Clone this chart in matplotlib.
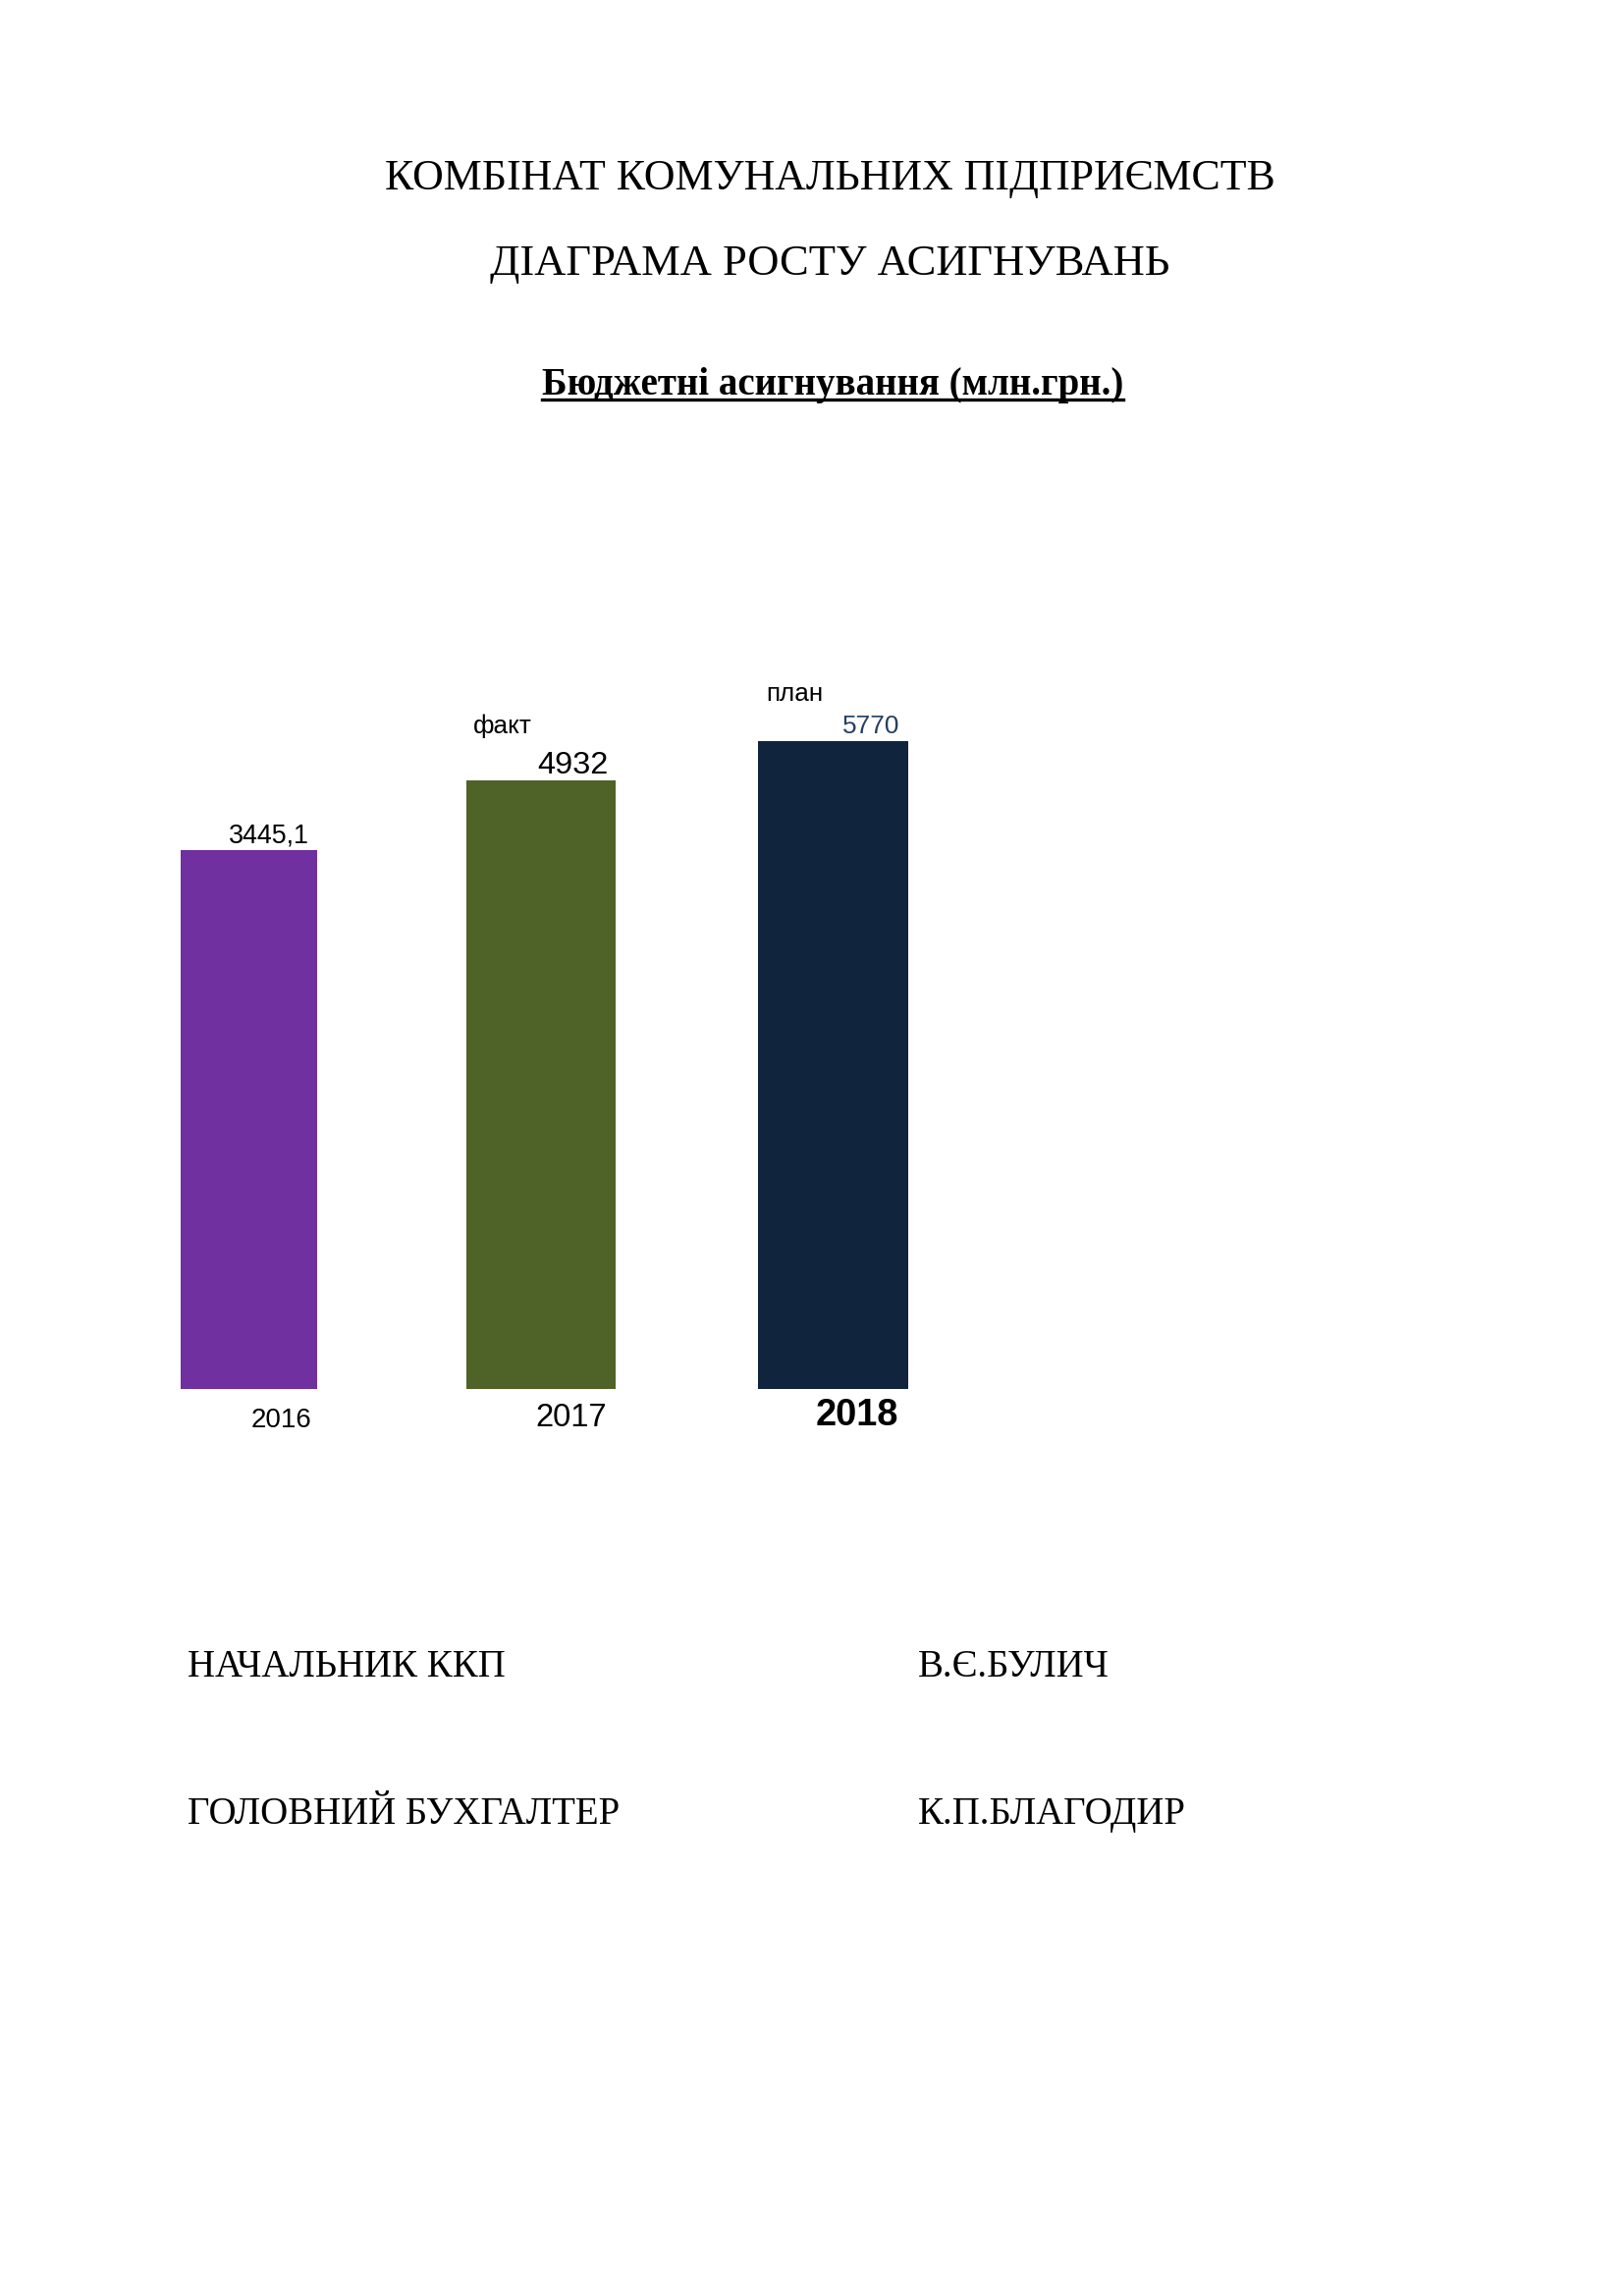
import matplotlib
matplotlib.use('Agg')
import matplotlib.pyplot as plt
from matplotlib.lines import Line2D

# budget allocations, mln UAH
years = ['2016', '2017', '2018']
values = [3445.1, 4932, 5770]
value_labels = ['3445,1', '4932', '5770']
notes = ['', 'факт', 'план']

W, H = 1654, 2339
DPI = 200
PT = 72 / DPI  # px -> points

fig = plt.figure(figsize=(W / DPI, H / DPI), dpi=DPI)
fig.patch.set_facecolor('white')

def fx(px):
    return px / W

def fy(py):
    return 1 - py / H

serif = 'Liberation Serif'
sans = 'Liberation Sans'

# heading
fig.text(fx(845), fy(193), 'КОМБІНАТ КОМУНАЛЬНИХ ПІДПРИЄМСТВ', family=serif,
         fontsize=15.8, ha='center', va='baseline')
fig.text(fx(845), fy(280), 'ДІАГРАМА РОСТУ АСИГНУВАНЬ', family=serif,
         fontsize=16, ha='center', va='baseline')
sub = fig.text(fx(848), fy(402), 'Бюджетні асигнування (млн.грн.)', family=serif,
               fontsize=14, fontweight='bold', ha='center', va='baseline')

# chart - the value axis does not start at zero in the original
base = -8050
scale = 0.04774   # px per unit
unit = 297.5      # px per category
ax = fig.add_axes([fx(253.5 - 0.5 * unit), fy(1415), 3 * unit / W, 825 / H])
ax.set_xlim(-0.5, 2.5)
ax.set_ylim(base, base + 825 / scale)
ax.axis('off')

xs = [0, 1, 2]
widths = [0.467, 0.511, 0.514]
colors = ['#7030A0', '#4F6228', '#10243E']
heights = [v - base for v in values]
ax.bar(xs, heights, width=widths, bottom=base, color=colors)

# value labels above bars (offsets in px from the bar's top right corner)
lab_size = [9.7, 11.7, 9.4]
lab_color = ['black', 'black', '#243F60']
lab_off = [(-8, 8), (-8, 7), (-9, 8)]
for x, w, v, t, s, c, o in zip(xs, widths, values, value_labels, lab_size, lab_color, lab_off):
    ax.annotate(t, xy=(x + w / 2, v), xytext=(o[0] * PT, o[1] * PT), textcoords='offset points',
                ha='right', va='baseline', fontsize=s, color=c, family=sans)

# факт / план notes (offsets from the bar's top left corner)
note_off = [(0, 0), (7, 48), (8, 41)]
for x, w, v, n, o in zip(xs, widths, values, notes, note_off):
    if n:
        ax.annotate(n, xy=(x - w / 2, v), xytext=(o[0] * PT, o[1] * PT), textcoords='offset points',
                    ha='left', va='baseline', fontsize=9.4, family=sans)

# year labels under bars
yr_size = [10, 11.8, 13.7]
yr_weight = ['normal', 'normal', 'bold']
yr_off = [(-6, -39), (-9, -38), (-10, -37)]
for x, w, yr, s, wt, o in zip(xs, widths, years, yr_size, yr_weight, yr_off):
    ax.annotate(yr, xy=(x + w / 2, base), xytext=(o[0] * PT, o[1] * PT), textcoords='offset points',
                ha='right', va='baseline', fontsize=s, fontweight=wt, family=sans)

# signatures
fig.text(fx(191), fy(1708), 'НАЧАЛЬНИК ККП', family=serif, fontsize=14, va='baseline')
fig.text(fx(935), fy(1708), 'В.Є.БУЛИЧ', family=serif, fontsize=14, va='baseline')
fig.text(fx(191), fy(1858), 'ГОЛОВНИЙ БУХГАЛТЕР', family=serif, fontsize=14, va='baseline')
fig.text(fx(935), fy(1858), 'К.П.БЛАГОДИР', family=serif, fontsize=14, va='baseline')

# underline for the subtitle
fig.canvas.draw()
bb = sub.get_window_extent(fig.canvas.get_renderer())
uy = fy(406.5)
fig.add_artist(Line2D([bb.x0 / W, bb.x1 / W], [uy, uy], color='black', lw=1.2))

fig.savefig('out.png', dpi=DPI, facecolor='white')
